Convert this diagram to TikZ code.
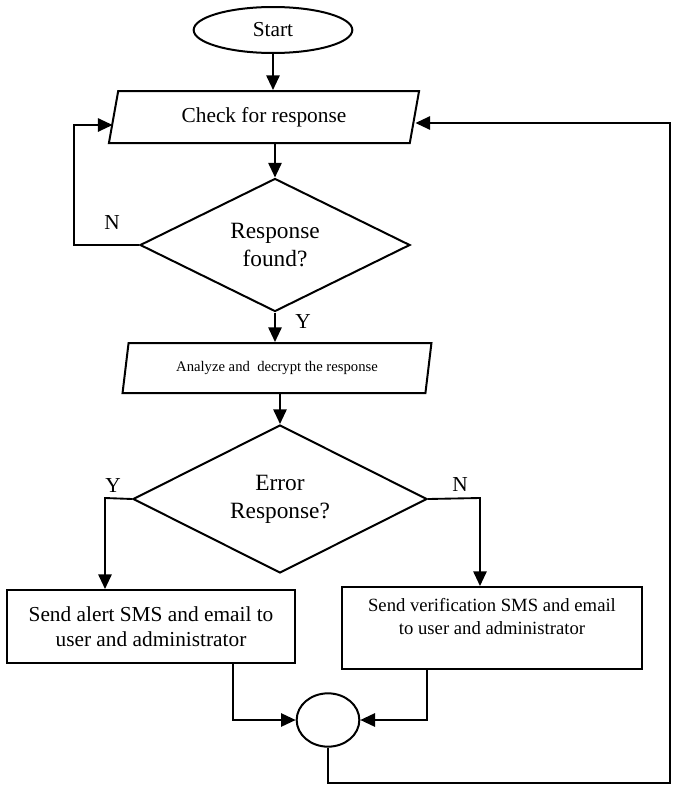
\documentclass[tikz,border=0pt]{standalone}
\usepackage{fontspec}
\setmainfont{Liberation Serif}
\usetikzlibrary{arrows.meta,positioning,shapes.geometric}
\tikzset{every node/.append style={transform shape=false}}
\tikzset{
  flow/.style={draw, line width=1.5pt, inner sep=0pt, align=center},
  io/.style={flow, trapezium, trapezium left angle=75, trapezium right angle=105,
    trapezium stretches=true},
  decide/.style={flow, diamond, font=\fontsize{17.5}{21}\selectfont},
  arr/.style={line width=1.4pt, -{Triangle[length=11pt,width=10pt]}},
  yn/.style={font=\fontsize{16}{19}\selectfont}
}

\begin{document}
\begin{tikzpicture}[x=0.75pt,y=-0.75pt]
  \useasboundingbox (0,0) rectangle (676,785);

  \node[flow, ellipse, minimum width=119pt, minimum height=34.5pt,
    font=\fontsize{16}{19}\selectfont] (start) at (273,30) {Start};
  \node[io, minimum width=233pt, minimum height=39pt,
    font=\fontsize{16}{19}\selectfont] (check) at (264,117) {Check for response};
  \node[decide, minimum width=202.5pt, minimum height=94.5pt] (found) at (275,245)
    {Response\\found?};
  \node[io, trapezium left angle=73, trapezium right angle=107,
    minimum width=232pt, minimum height=37.5pt,
    font=\fontsize{11}{13}\selectfont] (analyze) at (277,368)
    {Analyze and\ \ decrypt the response};
  \node[decide, minimum width=220.5pt, minimum height=96pt] (error) at (280,499)
    {Error\\Response?};
  \node[flow, minimum width=216pt, minimum height=54.75pt,
    font=\fontsize{16}{19}\selectfont] (alert) at (151,626.5)
    {Send alert SMS and email to\\user and administrator};
  \node[flow, minimum width=225pt, minimum height=61.5pt,
    font=\fontsize{14}{17}\selectfont] (verify) at (492,628)
    {Send verification SMS and email\\to user and administrator\\~};
  \node[flow, ellipse, minimum width=47pt, minimum height=40pt] (join) at (328,720) {};

  \coordinate (nback) at (74,125);
  \coordinate (ybr) at (105,498);
  \coordinate (nbr) at (480,498);
  \coordinate (lfeed) at (233,720);
  \coordinate (rfeed) at (427,720);
  \coordinate (back) at (670,783);

  \draw[arr] (start.south) -- (start.south |- check.north);
  \draw[arr] (found.north |- check.south) -- (found.north);
  \draw[arr] (found.west) -- (found.west -| nback) -- (nback) -- (nback -| check.west);
  \draw[arr] (found.south) -- (found.south |- analyze.north);
  \draw[arr] (error.north |- analyze.south) -- (error.north);
  \draw[arr] (error.west) -- (ybr) -- (ybr |- alert.north);
  \draw[arr] (error.east) -- (nbr) -- (nbr |- verify.north);
  \draw[arr] (lfeed |- alert.south) -- (lfeed) -- (join.west);
  \draw[arr] (rfeed |- verify.south) -- (rfeed) -- (join.east);
  \draw[arr] (join.south) |- (back) |- ([yshift=-4.5pt]check.east);

  \node[yn] (nfound) at (112,223) {N};
  \node[yn] (yfound) at (303,322) {Y};
  \node[yn] (yerror) at (113,486) {Y};
  \node[yn] (nerror) at (460,485) {N};
\end{tikzpicture}
\end{document}
